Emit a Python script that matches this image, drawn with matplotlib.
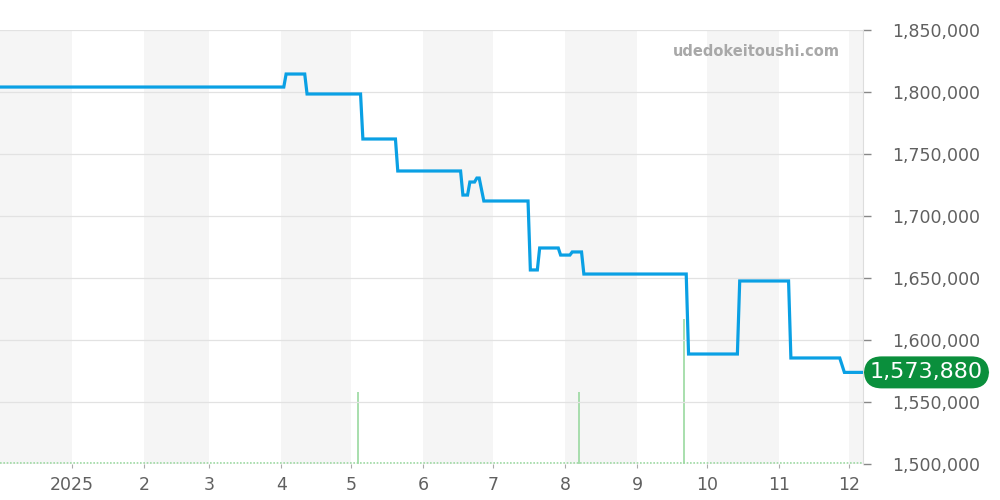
import numpy as np
import pandas as pd
import matplotlib
matplotlib.use("Agg")
import matplotlib.pyplot as plt
import matplotlib.transforms as mtransforms

# price levels: (first day, last day, price)
level_start = ["2024-12-01", "2025-04-03", "2025-04-12", "2025-05-06", "2025-05-21",
               "2025-06-18", "2025-06-21", "2025-06-24", "2025-06-27", "2025-07-17",
               "2025-07-21", "2025-07-30", "2025-08-04", "2025-08-09", "2025-09-23",
               "2025-10-15", "2025-11-06", "2025-11-29"]
level_end = ["2025-04-02", "2025-04-11", "2025-05-05", "2025-05-20", "2025-06-17",
             "2025-06-20", "2025-06-23", "2025-06-25", "2025-07-16", "2025-07-20",
             "2025-07-29", "2025-08-03", "2025-08-08", "2025-09-22", "2025-10-14",
             "2025-11-05", "2025-11-27", "2025-12-07"]
level_price = [1804000, 1814500, 1798400, 1762100, 1736300,
               1716900, 1727400, 1730600, 1712100, 1656500,
               1674200, 1668500, 1671000, 1653200, 1588700,
               1647600, 1585500, 1573880]

vol_dates = ["2025-05-04", "2025-08-07", "2025-09-21"]
vol_counts = [1, 1, 2]

last_price = 1573880
y_ticks = [1500000, 1550000, 1600000, 1650000, 1700000, 1750000, 1800000, 1850000]

x_start = pd.Timestamp("2024-12-01")
x_end = pd.Timestamp("2025-12-07")

# build the line from the level endpoints
xs, ys = [], []
for s, e, p in zip(level_start, level_end, level_price):
    xs += [pd.Timestamp(s), pd.Timestamp(e)]
    ys += [p, p]

fig = plt.figure(figsize=(10, 5), dpi=100)
ax = fig.add_axes([0.0, 0.072, 0.863, 0.868])

# volume on its own axis, drawn beneath the price axis
axv = ax.twinx()
axv.set_zorder(ax.get_zorder() - 1)
ax.patch.set_visible(False)

# alternating month bands
months = pd.date_range("2024-12-01", "2026-01-01", freq="MS")
for i in range(len(months) - 1):
    if i % 2 == 0:
        axv.axvspan(months[i], months[i + 1], color="#f5f5f5", lw=0, zorder=0)

axv.vlines(pd.to_datetime(vol_dates), 0, vol_counts, color="#9ad9a0", lw=1.2, zorder=2)
axv.plot([x_start, x_end], [0.01, 0.01], color="#9ad9a0", lw=1.2, ls=(0, (1, 1)), zorder=2)
axv.set_ylim(0, 6)
axv.set_yticks([])
for sp in axv.spines.values():
    sp.set_visible(False)

ax.plot(xs, ys, color="#0aa0e4", lw=2.3, zorder=3, solid_joinstyle="miter")

ax.set_xlim(x_start, x_end)
ax.set_ylim(1500000, 1850000)
ax.yaxis.tick_right()
ax.set_yticks(y_ticks)
ax.set_yticklabels([f"{v:,}" for v in y_ticks])
ax.tick_params(axis="y", length=6, width=1, color="#888888", labelsize=12.5,
               labelcolor="#606060", pad=15)
ax.grid(axis="y", color="#e2e2e2", lw=0.9, zorder=1)

tick_months = pd.date_range("2025-01-01", "2025-12-01", freq="MS")
ax.set_xticks(tick_months)
ax.set_xticklabels(["2025" if d.month == 1 else str(d.month) for d in tick_months])
ax.tick_params(axis="x", length=3, color="#aaaaaa", labelsize=12.5,
               labelcolor="#606060", pad=6)

for k in ["top", "left", "bottom"]:
    ax.spines[k].set_visible(False)
ax.spines["right"].set_color("#dddddd")

ax.text(0.973, 0.95, "udedokeitoushi.com", transform=ax.transAxes, ha="right",
        va="center", fontsize=10.5, fontweight="bold", color="#a8a8a8")

# last price badge
trans = mtransforms.blended_transform_factory(fig.transFigure, ax.transData)
ax.text(0.9265, last_price, f"{last_price:,}", transform=trans,
        ha="center", va="center", fontsize=16, color="white", clip_on=False,
        bbox=dict(boxstyle="round,pad=0.27,rounding_size=0.8", fc="#0a8f3c", ec="none"))

fig.savefig("out.png", dpi=100)
